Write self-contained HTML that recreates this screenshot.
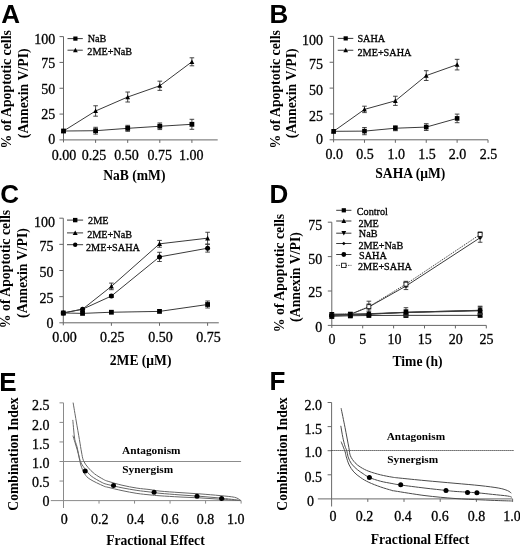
<!DOCTYPE html>
<html><head><meta charset="utf-8"><title>Figure</title>
<style>html,body{margin:0;padding:0;background:#fff;overflow:hidden;}svg{display:block;}</style></head>
<body><svg width="520" height="547" viewBox="0 0 520 547">
<defs><filter id="soft" x="-2%" y="-2%" width="104%" height="104%"><feGaussianBlur stdDeviation="0.35"/></filter></defs>
<rect width="520" height="547" fill="#fff"/>
<g filter="url(#soft)">
<text x="1.25" y="22.70" font-family='"Liberation Sans", sans-serif' font-size="26" font-weight="bold" text-anchor="start" fill="#000">A</text>
<text x="11.40" y="148.50" font-family='"Liberation Serif", serif' font-size="13.8" font-weight="bold" text-anchor="start" fill="#000" transform="rotate(-90 11.40 148.50)">% of Apoptotic cells</text>
<text x="27.80" y="138.20" font-family='"Liberation Serif", serif' font-size="13.8" font-weight="bold" text-anchor="start" fill="#000" transform="rotate(-90 27.80 138.20)">(Annexin V/PI)</text>
<line x1="63.50" y1="36.60" x2="63.50" y2="142.40" stroke="#666" stroke-width="1" />
<line x1="63.50" y1="139.90" x2="217.70" y2="139.90" stroke="#666" stroke-width="1" />
<line x1="59.50" y1="139.90" x2="63.50" y2="139.90" stroke="#666" stroke-width="1" />
<line x1="59.50" y1="114.08" x2="63.50" y2="114.08" stroke="#666" stroke-width="1" />
<line x1="59.50" y1="88.25" x2="63.50" y2="88.25" stroke="#666" stroke-width="1" />
<line x1="59.50" y1="62.42" x2="63.50" y2="62.42" stroke="#666" stroke-width="1" />
<line x1="59.50" y1="36.60" x2="63.50" y2="36.60" stroke="#666" stroke-width="1" />
<line x1="95.60" y1="139.90" x2="95.60" y2="142.90" stroke="#666" stroke-width="1" />
<line x1="127.70" y1="139.90" x2="127.70" y2="142.90" stroke="#666" stroke-width="1" />
<line x1="159.80" y1="139.90" x2="159.80" y2="142.90" stroke="#666" stroke-width="1" />
<line x1="191.90" y1="139.90" x2="191.90" y2="142.90" stroke="#666" stroke-width="1" />
<text x="55.20" y="44.30" font-family='"Liberation Serif", serif' font-size="14" font-weight="normal" text-anchor="end" fill="#000" stroke="#000" stroke-width="0.3">100</text>
<text x="55.20" y="67.80" font-family='"Liberation Serif", serif' font-size="14" font-weight="normal" text-anchor="end" fill="#000" stroke="#000" stroke-width="0.3">75</text>
<text x="55.20" y="93.60" font-family='"Liberation Serif", serif' font-size="14" font-weight="normal" text-anchor="end" fill="#000" stroke="#000" stroke-width="0.3">50</text>
<text x="55.20" y="119.10" font-family='"Liberation Serif", serif' font-size="14" font-weight="normal" text-anchor="end" fill="#000" stroke="#000" stroke-width="0.3">25</text>
<text x="55.20" y="143.50" font-family='"Liberation Serif", serif' font-size="14" font-weight="normal" text-anchor="end" fill="#000" stroke="#000" stroke-width="0.3">0</text>
<text x="64.00" y="160.00" font-family='"Liberation Serif", serif' font-size="14" font-weight="normal" text-anchor="middle" fill="#000" stroke="#000" stroke-width="0.3">0.00</text>
<text x="94.00" y="160.00" font-family='"Liberation Serif", serif' font-size="14" font-weight="normal" text-anchor="middle" fill="#000" stroke="#000" stroke-width="0.3">0.25</text>
<text x="126.50" y="160.00" font-family='"Liberation Serif", serif' font-size="14" font-weight="normal" text-anchor="middle" fill="#000" stroke="#000" stroke-width="0.3">0.50</text>
<text x="159.70" y="160.00" font-family='"Liberation Serif", serif' font-size="14" font-weight="normal" text-anchor="middle" fill="#000" stroke="#000" stroke-width="0.3">0.75</text>
<text x="191.20" y="160.00" font-family='"Liberation Serif", serif' font-size="14" font-weight="normal" text-anchor="middle" fill="#000" stroke="#000" stroke-width="0.3">1.00</text>
<text x="134.35" y="180.10" font-family='"Liberation Serif", serif' font-size="13.6" font-weight="bold" text-anchor="middle" fill="#000">NaB (mM)</text>
<polyline points="63.50,131.02 95.60,110.98 127.70,97.03 159.80,85.77 191.90,61.81" fill="none" stroke="#3a3a3a" stroke-width="1"/>
<line x1="95.60" y1="105.78" x2="95.60" y2="116.18" stroke="#333" stroke-width="0.9" />
<line x1="93.30" y1="105.78" x2="97.90" y2="105.78" stroke="#333" stroke-width="0.9" />
<line x1="93.30" y1="116.18" x2="97.90" y2="116.18" stroke="#333" stroke-width="0.9" />
<line x1="127.70" y1="92.03" x2="127.70" y2="102.03" stroke="#333" stroke-width="0.9" />
<line x1="125.40" y1="92.03" x2="130.00" y2="92.03" stroke="#333" stroke-width="0.9" />
<line x1="125.40" y1="102.03" x2="130.00" y2="102.03" stroke="#333" stroke-width="0.9" />
<line x1="159.80" y1="81.17" x2="159.80" y2="90.37" stroke="#333" stroke-width="0.9" />
<line x1="157.50" y1="81.17" x2="162.10" y2="81.17" stroke="#333" stroke-width="0.9" />
<line x1="157.50" y1="90.37" x2="162.10" y2="90.37" stroke="#333" stroke-width="0.9" />
<line x1="191.90" y1="57.81" x2="191.90" y2="65.81" stroke="#333" stroke-width="0.9" />
<line x1="189.60" y1="57.81" x2="194.20" y2="57.81" stroke="#333" stroke-width="0.9" />
<line x1="189.60" y1="65.81" x2="194.20" y2="65.81" stroke="#333" stroke-width="0.9" />
<polygon points="63.50,128.62 65.90,133.12 61.10,133.12" fill="#000"/>
<polygon points="95.60,108.58 98.00,113.08 93.20,113.08" fill="#000"/>
<polygon points="127.70,94.63 130.10,99.13 125.30,99.13" fill="#000"/>
<polygon points="159.80,83.37 162.20,87.87 157.40,87.87" fill="#000"/>
<polygon points="191.90,59.41 194.30,63.91 189.50,63.91" fill="#000"/>
<polyline points="63.50,131.02 95.60,130.71 127.70,128.33 159.80,126.26 191.90,124.30" fill="none" stroke="#3a3a3a" stroke-width="1"/>
<line x1="95.60" y1="127.31" x2="95.60" y2="134.11" stroke="#333" stroke-width="0.9" />
<line x1="93.30" y1="127.31" x2="97.90" y2="127.31" stroke="#333" stroke-width="0.9" />
<line x1="93.30" y1="134.11" x2="97.90" y2="134.11" stroke="#333" stroke-width="0.9" />
<line x1="127.70" y1="125.33" x2="127.70" y2="131.33" stroke="#333" stroke-width="0.9" />
<line x1="125.40" y1="125.33" x2="130.00" y2="125.33" stroke="#333" stroke-width="0.9" />
<line x1="125.40" y1="131.33" x2="130.00" y2="131.33" stroke="#333" stroke-width="0.9" />
<line x1="159.80" y1="122.96" x2="159.80" y2="129.56" stroke="#333" stroke-width="0.9" />
<line x1="157.50" y1="122.96" x2="162.10" y2="122.96" stroke="#333" stroke-width="0.9" />
<line x1="157.50" y1="129.56" x2="162.10" y2="129.56" stroke="#333" stroke-width="0.9" />
<line x1="191.90" y1="119.30" x2="191.90" y2="129.30" stroke="#333" stroke-width="0.9" />
<line x1="189.60" y1="119.30" x2="194.20" y2="119.30" stroke="#333" stroke-width="0.9" />
<line x1="189.60" y1="129.30" x2="194.20" y2="129.30" stroke="#333" stroke-width="0.9" />
<rect x="61.10" y="128.62" width="4.80" height="4.80" fill="#000"/>
<rect x="93.20" y="128.31" width="4.80" height="4.80" fill="#000"/>
<rect x="125.30" y="125.93" width="4.80" height="4.80" fill="#000"/>
<rect x="157.40" y="123.86" width="4.80" height="4.80" fill="#000"/>
<rect x="189.50" y="121.90" width="4.80" height="4.80" fill="#000"/>
<line x1="67.50" y1="38.60" x2="82.80" y2="38.60" stroke="#3a3a3a" stroke-width="1" />
<rect x="73.30" y="36.50" width="4.20" height="4.20" fill="#000"/>
<text x="87.70" y="42.20" font-family='"Liberation Serif", serif' font-size="10.2" font-weight="normal" text-anchor="start" fill="#000" stroke="#000" stroke-width="0.3">NaB</text>
<line x1="67.50" y1="50.20" x2="82.80" y2="50.20" stroke="#3a3a3a" stroke-width="1" />
<polygon points="75.40,47.80 77.80,52.30 73.00,52.30" fill="#000"/>
<text x="87.30" y="55.00" font-family='"Liberation Serif", serif' font-size="10.2" font-weight="normal" text-anchor="start" fill="#000" stroke="#000" stroke-width="0.3">2ME+NaB</text>
<text x="269.50" y="22.70" font-family='"Liberation Sans", sans-serif' font-size="26" font-weight="bold" text-anchor="start" fill="#000">B</text>
<text x="279.70" y="148.50" font-family='"Liberation Serif", serif' font-size="13.8" font-weight="bold" text-anchor="start" fill="#000" transform="rotate(-90 279.70 148.50)">% of Apoptotic cells</text>
<text x="296.10" y="138.20" font-family='"Liberation Serif", serif' font-size="13.8" font-weight="bold" text-anchor="start" fill="#000" transform="rotate(-90 296.10 138.20)">(Annexin V/PI)</text>
<line x1="333.60" y1="36.40" x2="333.60" y2="142.30" stroke="#666" stroke-width="1" />
<line x1="333.60" y1="139.80" x2="488.00" y2="139.80" stroke="#666" stroke-width="1" />
<line x1="329.60" y1="139.80" x2="333.60" y2="139.80" stroke="#666" stroke-width="1" />
<line x1="329.60" y1="113.95" x2="333.60" y2="113.95" stroke="#666" stroke-width="1" />
<line x1="329.60" y1="88.10" x2="333.60" y2="88.10" stroke="#666" stroke-width="1" />
<line x1="329.60" y1="62.25" x2="333.60" y2="62.25" stroke="#666" stroke-width="1" />
<line x1="329.60" y1="36.40" x2="333.60" y2="36.40" stroke="#666" stroke-width="1" />
<line x1="364.48" y1="139.80" x2="364.48" y2="142.80" stroke="#666" stroke-width="1" />
<line x1="395.36" y1="139.80" x2="395.36" y2="142.80" stroke="#666" stroke-width="1" />
<line x1="426.24" y1="139.80" x2="426.24" y2="142.80" stroke="#666" stroke-width="1" />
<line x1="457.12" y1="139.80" x2="457.12" y2="142.80" stroke="#666" stroke-width="1" />
<line x1="488.00" y1="139.80" x2="488.00" y2="142.80" stroke="#666" stroke-width="1" />
<text x="323.00" y="44.80" font-family='"Liberation Serif", serif' font-size="14" font-weight="normal" text-anchor="end" fill="#000" stroke="#000" stroke-width="0.3">100</text>
<text x="323.00" y="68.80" font-family='"Liberation Serif", serif' font-size="14" font-weight="normal" text-anchor="end" fill="#000" stroke="#000" stroke-width="0.3">75</text>
<text x="323.00" y="94.80" font-family='"Liberation Serif", serif' font-size="14" font-weight="normal" text-anchor="end" fill="#000" stroke="#000" stroke-width="0.3">50</text>
<text x="323.00" y="120.60" font-family='"Liberation Serif", serif' font-size="14" font-weight="normal" text-anchor="end" fill="#000" stroke="#000" stroke-width="0.3">25</text>
<text x="323.00" y="144.20" font-family='"Liberation Serif", serif' font-size="14" font-weight="normal" text-anchor="end" fill="#000" stroke="#000" stroke-width="0.3">0</text>
<text x="334.20" y="159.20" font-family='"Liberation Serif", serif' font-size="14" font-weight="normal" text-anchor="middle" fill="#000" stroke="#000" stroke-width="0.3">0.0</text>
<text x="365.00" y="159.20" font-family='"Liberation Serif", serif' font-size="14" font-weight="normal" text-anchor="middle" fill="#000" stroke="#000" stroke-width="0.3">0.5</text>
<text x="396.20" y="159.20" font-family='"Liberation Serif", serif' font-size="14" font-weight="normal" text-anchor="middle" fill="#000" stroke="#000" stroke-width="0.3">1.0</text>
<text x="426.90" y="159.20" font-family='"Liberation Serif", serif' font-size="14" font-weight="normal" text-anchor="middle" fill="#000" stroke="#000" stroke-width="0.3">1.5</text>
<text x="457.50" y="159.20" font-family='"Liberation Serif", serif' font-size="14" font-weight="normal" text-anchor="middle" fill="#000" stroke="#000" stroke-width="0.3">2.0</text>
<text x="488.50" y="159.20" font-family='"Liberation Serif", serif' font-size="14" font-weight="normal" text-anchor="middle" fill="#000" stroke="#000" stroke-width="0.3">2.5</text>
<text x="410.30" y="178.10" font-family='"Liberation Serif", serif' font-size="13.6" font-weight="bold" text-anchor="middle" fill="#000">SAHA (&#956;M)</text>
<polyline points="333.60,131.32 364.48,109.40 395.36,100.82 426.24,75.59 457.12,64.63" fill="none" stroke="#3a3a3a" stroke-width="1"/>
<line x1="364.48" y1="106.20" x2="364.48" y2="112.60" stroke="#333" stroke-width="0.9" />
<line x1="362.18" y1="106.20" x2="366.78" y2="106.20" stroke="#333" stroke-width="0.9" />
<line x1="362.18" y1="112.60" x2="366.78" y2="112.60" stroke="#333" stroke-width="0.9" />
<line x1="395.36" y1="96.22" x2="395.36" y2="105.42" stroke="#333" stroke-width="0.9" />
<line x1="393.06" y1="96.22" x2="397.66" y2="96.22" stroke="#333" stroke-width="0.9" />
<line x1="393.06" y1="105.42" x2="397.66" y2="105.42" stroke="#333" stroke-width="0.9" />
<line x1="426.24" y1="70.69" x2="426.24" y2="80.49" stroke="#333" stroke-width="0.9" />
<line x1="423.94" y1="70.69" x2="428.54" y2="70.69" stroke="#333" stroke-width="0.9" />
<line x1="423.94" y1="80.49" x2="428.54" y2="80.49" stroke="#333" stroke-width="0.9" />
<line x1="457.12" y1="59.33" x2="457.12" y2="69.93" stroke="#333" stroke-width="0.9" />
<line x1="454.82" y1="59.33" x2="459.42" y2="59.33" stroke="#333" stroke-width="0.9" />
<line x1="454.82" y1="69.93" x2="459.42" y2="69.93" stroke="#333" stroke-width="0.9" />
<polygon points="333.60,128.92 336.00,133.42 331.20,133.42" fill="#000"/>
<polygon points="364.48,107.00 366.88,111.50 362.08,111.50" fill="#000"/>
<polygon points="395.36,98.42 397.76,102.92 392.96,102.92" fill="#000"/>
<polygon points="426.24,73.19 428.64,77.69 423.84,77.69" fill="#000"/>
<polygon points="457.12,62.23 459.52,66.73 454.72,66.73" fill="#000"/>
<polyline points="333.60,131.32 364.48,131.11 395.36,128.22 426.24,127.08 457.12,118.40" fill="none" stroke="#3a3a3a" stroke-width="1"/>
<line x1="364.48" y1="127.51" x2="364.48" y2="134.71" stroke="#333" stroke-width="0.9" />
<line x1="362.18" y1="127.51" x2="366.78" y2="127.51" stroke="#333" stroke-width="0.9" />
<line x1="362.18" y1="134.71" x2="366.78" y2="134.71" stroke="#333" stroke-width="0.9" />
<line x1="395.36" y1="125.72" x2="395.36" y2="130.72" stroke="#333" stroke-width="0.9" />
<line x1="393.06" y1="125.72" x2="397.66" y2="125.72" stroke="#333" stroke-width="0.9" />
<line x1="393.06" y1="130.72" x2="397.66" y2="130.72" stroke="#333" stroke-width="0.9" />
<line x1="426.24" y1="123.68" x2="426.24" y2="130.48" stroke="#333" stroke-width="0.9" />
<line x1="423.94" y1="123.68" x2="428.54" y2="123.68" stroke="#333" stroke-width="0.9" />
<line x1="423.94" y1="130.48" x2="428.54" y2="130.48" stroke="#333" stroke-width="0.9" />
<line x1="457.12" y1="114.10" x2="457.12" y2="122.70" stroke="#333" stroke-width="0.9" />
<line x1="454.82" y1="114.10" x2="459.42" y2="114.10" stroke="#333" stroke-width="0.9" />
<line x1="454.82" y1="122.70" x2="459.42" y2="122.70" stroke="#333" stroke-width="0.9" />
<rect x="331.30" y="129.02" width="4.60" height="4.60" fill="#000"/>
<rect x="362.18" y="128.81" width="4.60" height="4.60" fill="#000"/>
<rect x="393.06" y="125.92" width="4.60" height="4.60" fill="#000"/>
<rect x="423.94" y="124.78" width="4.60" height="4.60" fill="#000"/>
<rect x="454.82" y="116.10" width="4.60" height="4.60" fill="#000"/>
<line x1="337.75" y1="38.40" x2="353.30" y2="38.40" stroke="#3a3a3a" stroke-width="1" />
<rect x="343.60" y="36.30" width="4.20" height="4.20" fill="#000"/>
<text x="357.40" y="42.10" font-family='"Liberation Serif", serif' font-size="10.2" font-weight="normal" text-anchor="start" fill="#000" stroke="#000" stroke-width="0.3">SAHA</text>
<line x1="337.75" y1="50.25" x2="353.30" y2="50.25" stroke="#3a3a3a" stroke-width="1" />
<polygon points="345.70,47.85 348.10,52.35 343.30,52.35" fill="#000"/>
<text x="357.50" y="55.60" font-family='"Liberation Serif", serif' font-size="10.2" font-weight="normal" text-anchor="start" fill="#000" stroke="#000" stroke-width="0.3">2ME+SAHA</text>
<text x="0.20" y="203.30" font-family='"Liberation Sans", sans-serif' font-size="26" font-weight="bold" text-anchor="start" fill="#000">C</text>
<text x="10.20" y="328.20" font-family='"Liberation Serif", serif' font-size="13.8" font-weight="bold" text-anchor="start" fill="#000" transform="rotate(-90 10.20 328.20)">% of Apoptotic cells</text>
<text x="26.60" y="317.90" font-family='"Liberation Serif", serif' font-size="13.8" font-weight="bold" text-anchor="start" fill="#000" transform="rotate(-90 26.60 317.90)">(Annexin V/PI)</text>
<line x1="63.30" y1="218.20" x2="63.30" y2="325.30" stroke="#666" stroke-width="1" />
<line x1="63.30" y1="322.80" x2="218.80" y2="322.80" stroke="#666" stroke-width="1" />
<line x1="59.30" y1="322.80" x2="63.30" y2="322.80" stroke="#666" stroke-width="1" />
<line x1="59.30" y1="296.65" x2="63.30" y2="296.65" stroke="#666" stroke-width="1" />
<line x1="59.30" y1="270.50" x2="63.30" y2="270.50" stroke="#666" stroke-width="1" />
<line x1="59.30" y1="244.35" x2="63.30" y2="244.35" stroke="#666" stroke-width="1" />
<line x1="59.30" y1="218.20" x2="63.30" y2="218.20" stroke="#666" stroke-width="1" />
<line x1="111.40" y1="322.80" x2="111.40" y2="325.80" stroke="#666" stroke-width="1" />
<line x1="159.50" y1="322.80" x2="159.50" y2="325.80" stroke="#666" stroke-width="1" />
<line x1="207.60" y1="322.80" x2="207.60" y2="325.80" stroke="#666" stroke-width="1" />
<text x="55.00" y="226.80" font-family='"Liberation Serif", serif' font-size="14" font-weight="normal" text-anchor="end" fill="#000" stroke="#000" stroke-width="0.3">100</text>
<text x="53.60" y="251.40" font-family='"Liberation Serif", serif' font-size="14" font-weight="normal" text-anchor="end" fill="#000" stroke="#000" stroke-width="0.3">75</text>
<text x="53.60" y="277.20" font-family='"Liberation Serif", serif' font-size="14" font-weight="normal" text-anchor="end" fill="#000" stroke="#000" stroke-width="0.3">50</text>
<text x="53.60" y="303.20" font-family='"Liberation Serif", serif' font-size="14" font-weight="normal" text-anchor="end" fill="#000" stroke="#000" stroke-width="0.3">25</text>
<text x="53.60" y="327.60" font-family='"Liberation Serif", serif' font-size="14" font-weight="normal" text-anchor="end" fill="#000" stroke="#000" stroke-width="0.3">0</text>
<text x="64.50" y="341.80" font-family='"Liberation Serif", serif' font-size="14" font-weight="normal" text-anchor="middle" fill="#000" stroke="#000" stroke-width="0.3">0.00</text>
<text x="112.20" y="341.80" font-family='"Liberation Serif", serif' font-size="14" font-weight="normal" text-anchor="middle" fill="#000" stroke="#000" stroke-width="0.3">0.25</text>
<text x="160.40" y="341.80" font-family='"Liberation Serif", serif' font-size="14" font-weight="normal" text-anchor="middle" fill="#000" stroke="#000" stroke-width="0.3">0.50</text>
<text x="208.50" y="341.80" font-family='"Liberation Serif", serif' font-size="14" font-weight="normal" text-anchor="middle" fill="#000" stroke="#000" stroke-width="0.3">0.75</text>
<text x="140.60" y="365.20" font-family='"Liberation Serif", serif' font-size="13.6" font-weight="bold" text-anchor="middle" fill="#000">2ME (&#956;M)</text>
<polyline points="63.30,312.97 82.54,309.20 111.40,286.40 159.50,243.83 207.60,238.18" fill="none" stroke="#3a3a3a" stroke-width="1"/>
<line x1="111.40" y1="283.10" x2="111.40" y2="289.70" stroke="#333" stroke-width="0.9" />
<line x1="109.10" y1="283.10" x2="113.70" y2="283.10" stroke="#333" stroke-width="0.9" />
<line x1="109.10" y1="289.70" x2="113.70" y2="289.70" stroke="#333" stroke-width="0.9" />
<line x1="159.50" y1="240.43" x2="159.50" y2="247.23" stroke="#333" stroke-width="0.9" />
<line x1="157.20" y1="240.43" x2="161.80" y2="240.43" stroke="#333" stroke-width="0.9" />
<line x1="157.20" y1="247.23" x2="161.80" y2="247.23" stroke="#333" stroke-width="0.9" />
<line x1="207.60" y1="232.28" x2="207.60" y2="244.08" stroke="#333" stroke-width="0.9" />
<line x1="205.30" y1="232.28" x2="209.90" y2="232.28" stroke="#333" stroke-width="0.9" />
<line x1="205.30" y1="244.08" x2="209.90" y2="244.08" stroke="#333" stroke-width="0.9" />
<polygon points="63.30,310.47 65.80,315.17 60.80,315.17" fill="#000"/>
<polygon points="82.54,306.70 85.04,311.40 80.04,311.40" fill="#000"/>
<polygon points="111.40,283.90 113.90,288.60 108.90,288.60" fill="#000"/>
<polygon points="159.50,241.33 162.00,246.03 157.00,246.03" fill="#000"/>
<polygon points="207.60,235.68 210.10,240.38 205.10,240.38" fill="#000"/>
<polyline points="63.30,312.97 82.54,309.20 111.40,296.02 159.50,256.90 207.60,248.22" fill="none" stroke="#3a3a3a" stroke-width="1"/>
<line x1="111.40" y1="294.52" x2="111.40" y2="297.52" stroke="#333" stroke-width="0.9" />
<line x1="109.10" y1="294.52" x2="113.70" y2="294.52" stroke="#333" stroke-width="0.9" />
<line x1="109.10" y1="297.52" x2="113.70" y2="297.52" stroke="#333" stroke-width="0.9" />
<line x1="159.50" y1="252.30" x2="159.50" y2="261.50" stroke="#333" stroke-width="0.9" />
<line x1="157.20" y1="252.30" x2="161.80" y2="252.30" stroke="#333" stroke-width="0.9" />
<line x1="157.20" y1="261.50" x2="161.80" y2="261.50" stroke="#333" stroke-width="0.9" />
<line x1="207.60" y1="244.32" x2="207.60" y2="252.12" stroke="#333" stroke-width="0.9" />
<line x1="205.30" y1="244.32" x2="209.90" y2="244.32" stroke="#333" stroke-width="0.9" />
<line x1="205.30" y1="252.12" x2="209.90" y2="252.12" stroke="#333" stroke-width="0.9" />
<circle cx="63.30" cy="312.97" r="2.50" fill="#000"/>
<circle cx="82.54" cy="309.20" r="2.50" fill="#000"/>
<circle cx="111.40" cy="296.02" r="2.50" fill="#000"/>
<circle cx="159.50" cy="256.90" r="2.50" fill="#000"/>
<circle cx="207.60" cy="248.22" r="2.50" fill="#000"/>
<polyline points="63.30,312.97 82.54,313.39 111.40,312.24 159.50,311.40 207.60,304.50" fill="none" stroke="#3a3a3a" stroke-width="1"/>
<line x1="207.60" y1="301.00" x2="207.60" y2="308.00" stroke="#333" stroke-width="0.9" />
<line x1="205.30" y1="301.00" x2="209.90" y2="301.00" stroke="#333" stroke-width="0.9" />
<line x1="205.30" y1="308.00" x2="209.90" y2="308.00" stroke="#333" stroke-width="0.9" />
<rect x="60.90" y="310.57" width="4.80" height="4.80" fill="#000"/>
<rect x="80.14" y="310.99" width="4.80" height="4.80" fill="#000"/>
<rect x="109.00" y="309.84" width="4.80" height="4.80" fill="#000"/>
<rect x="157.10" y="309.00" width="4.80" height="4.80" fill="#000"/>
<rect x="205.20" y="302.10" width="4.80" height="4.80" fill="#000"/>
<line x1="67.00" y1="220.10" x2="83.10" y2="220.10" stroke="#3a3a3a" stroke-width="1" />
<rect x="73.00" y="217.90" width="4.40" height="4.40" fill="#000"/>
<text x="88.10" y="224.10" font-family='"Liberation Serif", serif' font-size="10.2" font-weight="normal" text-anchor="start" fill="#000" stroke="#000" stroke-width="0.3">2ME</text>
<line x1="67.00" y1="232.90" x2="83.10" y2="232.90" stroke="#3a3a3a" stroke-width="1" />
<polygon points="75.20,230.40 77.70,235.10 72.70,235.10" fill="#000"/>
<text x="87.20" y="237.70" font-family='"Liberation Serif", serif' font-size="10.2" font-weight="normal" text-anchor="start" fill="#000" stroke="#000" stroke-width="0.3">2ME+NaB</text>
<line x1="67.00" y1="244.70" x2="83.10" y2="244.70" stroke="#3a3a3a" stroke-width="1" />
<circle cx="75.20" cy="244.70" r="2.20" fill="#000"/>
<text x="86.00" y="250.60" font-family='"Liberation Serif", serif' font-size="10.2" font-weight="normal" text-anchor="start" fill="#000" stroke="#000" stroke-width="0.3">2ME+SAHA</text>
<text x="269.50" y="203.10" font-family='"Liberation Sans", sans-serif' font-size="26" font-weight="bold" text-anchor="start" fill="#000">D</text>
<text x="284.00" y="332.20" font-family='"Liberation Serif", serif' font-size="13.8" font-weight="bold" text-anchor="start" fill="#000" transform="rotate(-90 284.00 332.20)">% of Apoptotic cells</text>
<text x="300.40" y="321.90" font-family='"Liberation Serif", serif' font-size="13.8" font-weight="bold" text-anchor="start" fill="#000" transform="rotate(-90 300.40 321.90)">(Annexin V/PI)</text>
<line x1="331.80" y1="222.20" x2="331.80" y2="327.90" stroke="#666" stroke-width="1" />
<line x1="331.80" y1="325.40" x2="486.30" y2="325.40" stroke="#666" stroke-width="1" />
<line x1="327.80" y1="325.40" x2="331.80" y2="325.40" stroke="#666" stroke-width="1" />
<line x1="327.80" y1="291.00" x2="331.80" y2="291.00" stroke="#666" stroke-width="1" />
<line x1="327.80" y1="256.60" x2="331.80" y2="256.60" stroke="#666" stroke-width="1" />
<line x1="327.80" y1="222.20" x2="331.80" y2="222.20" stroke="#666" stroke-width="1" />
<line x1="362.70" y1="325.40" x2="362.70" y2="328.40" stroke="#666" stroke-width="1" />
<line x1="393.60" y1="325.40" x2="393.60" y2="328.40" stroke="#666" stroke-width="1" />
<line x1="424.50" y1="325.40" x2="424.50" y2="328.40" stroke="#666" stroke-width="1" />
<line x1="455.40" y1="325.40" x2="455.40" y2="328.40" stroke="#666" stroke-width="1" />
<line x1="486.30" y1="325.40" x2="486.30" y2="328.40" stroke="#666" stroke-width="1" />
<text x="322.20" y="229.50" font-family='"Liberation Serif", serif' font-size="14" font-weight="normal" text-anchor="end" fill="#000" stroke="#000" stroke-width="0.3">75</text>
<text x="322.20" y="263.60" font-family='"Liberation Serif", serif' font-size="14" font-weight="normal" text-anchor="end" fill="#000" stroke="#000" stroke-width="0.3">50</text>
<text x="322.20" y="297.40" font-family='"Liberation Serif", serif' font-size="14" font-weight="normal" text-anchor="end" fill="#000" stroke="#000" stroke-width="0.3">25</text>
<text x="322.20" y="331.50" font-family='"Liberation Serif", serif' font-size="14" font-weight="normal" text-anchor="end" fill="#000" stroke="#000" stroke-width="0.3">0</text>
<text x="332.10" y="344.40" font-family='"Liberation Serif", serif' font-size="14" font-weight="normal" text-anchor="middle" fill="#000" stroke="#000" stroke-width="0.3">0</text>
<text x="362.80" y="344.40" font-family='"Liberation Serif", serif' font-size="14" font-weight="normal" text-anchor="middle" fill="#000" stroke="#000" stroke-width="0.3">5</text>
<text x="394.40" y="344.40" font-family='"Liberation Serif", serif' font-size="14" font-weight="normal" text-anchor="middle" fill="#000" stroke="#000" stroke-width="0.3">10</text>
<text x="424.70" y="344.40" font-family='"Liberation Serif", serif' font-size="14" font-weight="normal" text-anchor="middle" fill="#000" stroke="#000" stroke-width="0.3">15</text>
<text x="455.70" y="344.40" font-family='"Liberation Serif", serif' font-size="14" font-weight="normal" text-anchor="middle" fill="#000" stroke="#000" stroke-width="0.3">20</text>
<text x="486.50" y="344.40" font-family='"Liberation Serif", serif' font-size="14" font-weight="normal" text-anchor="middle" fill="#000" stroke="#000" stroke-width="0.3">25</text>
<text x="417.50" y="366.20" font-family='"Liberation Serif", serif' font-size="13.6" font-weight="bold" text-anchor="middle" fill="#000">Time (h)</text>
<polyline points="331.80,314.94 350.34,314.39 368.88,306.96 405.96,286.05 480.12,237.75" fill="none" stroke="#3a3a3a" stroke-width="1"/>
<line x1="368.88" y1="303.96" x2="368.88" y2="309.96" stroke="#333" stroke-width="0.9" />
<line x1="366.58" y1="303.96" x2="371.18" y2="303.96" stroke="#333" stroke-width="0.9" />
<line x1="366.58" y1="309.96" x2="371.18" y2="309.96" stroke="#333" stroke-width="0.9" />
<line x1="405.96" y1="282.55" x2="405.96" y2="289.55" stroke="#333" stroke-width="0.9" />
<line x1="403.66" y1="282.55" x2="408.26" y2="282.55" stroke="#333" stroke-width="0.9" />
<line x1="403.66" y1="289.55" x2="408.26" y2="289.55" stroke="#333" stroke-width="0.9" />
<line x1="480.12" y1="233.25" x2="480.12" y2="242.25" stroke="#333" stroke-width="0.9" />
<line x1="477.82" y1="233.25" x2="482.42" y2="233.25" stroke="#333" stroke-width="0.9" />
<line x1="477.82" y1="242.25" x2="482.42" y2="242.25" stroke="#333" stroke-width="0.9" />
<polygon points="331.80,312.84 333.90,314.94 331.80,317.04 329.70,314.94" fill="#000"/>
<polygon points="350.34,312.29 352.44,314.39 350.34,316.49 348.24,314.39" fill="#000"/>
<polygon points="368.88,304.86 370.98,306.96 368.88,309.06 366.78,306.96" fill="#000"/>
<polygon points="405.96,283.95 408.06,286.05 405.96,288.15 403.86,286.05" fill="#000"/>
<polygon points="480.12,235.65 482.22,237.75 480.12,239.85 478.02,237.75" fill="#000"/>
<polyline points="331.80,314.67 350.34,314.12 368.88,306.69 405.96,284.12 480.12,234.45" fill="none" stroke="#3a3a3a" stroke-width="1" stroke-dasharray="1.2,1"/>
<line x1="368.88" y1="301.19" x2="368.88" y2="312.19" stroke="#333" stroke-width="0.9" />
<line x1="366.58" y1="301.19" x2="371.18" y2="301.19" stroke="#333" stroke-width="0.9" />
<line x1="366.58" y1="312.19" x2="371.18" y2="312.19" stroke="#333" stroke-width="0.9" />
<line x1="405.96" y1="281.32" x2="405.96" y2="286.92" stroke="#333" stroke-width="0.9" />
<line x1="403.66" y1="281.32" x2="408.26" y2="281.32" stroke="#333" stroke-width="0.9" />
<line x1="403.66" y1="286.92" x2="408.26" y2="286.92" stroke="#333" stroke-width="0.9" />
<line x1="480.12" y1="231.95" x2="480.12" y2="236.95" stroke="#333" stroke-width="0.9" />
<line x1="477.82" y1="231.95" x2="482.42" y2="231.95" stroke="#333" stroke-width="0.9" />
<line x1="477.82" y1="236.95" x2="482.42" y2="236.95" stroke="#333" stroke-width="0.9" />
<rect x="329.80" y="312.67" width="4.00" height="4.00" fill="#fff" stroke="#000" stroke-width="0.8"/>
<rect x="348.34" y="312.12" width="4.00" height="4.00" fill="#fff" stroke="#000" stroke-width="0.8"/>
<rect x="366.88" y="304.69" width="4.00" height="4.00" fill="#fff" stroke="#000" stroke-width="0.8"/>
<rect x="403.96" y="282.12" width="4.00" height="4.00" fill="#fff" stroke="#000" stroke-width="0.8"/>
<rect x="478.12" y="232.45" width="4.00" height="4.00" fill="#fff" stroke="#000" stroke-width="0.8"/>
<polyline points="331.80,316.32 350.34,315.77 368.88,315.49 405.96,315.36 480.12,315.36" fill="none" stroke="#3a3a3a" stroke-width="1"/>
<line x1="331.80" y1="314.12" x2="331.80" y2="318.52" stroke="#333" stroke-width="0.9" />
<line x1="329.50" y1="314.12" x2="334.10" y2="314.12" stroke="#333" stroke-width="0.9" />
<line x1="329.50" y1="318.52" x2="334.10" y2="318.52" stroke="#333" stroke-width="0.9" />
<line x1="350.34" y1="313.77" x2="350.34" y2="317.77" stroke="#333" stroke-width="0.9" />
<line x1="348.04" y1="313.77" x2="352.64" y2="313.77" stroke="#333" stroke-width="0.9" />
<line x1="348.04" y1="317.77" x2="352.64" y2="317.77" stroke="#333" stroke-width="0.9" />
<line x1="405.96" y1="313.36" x2="405.96" y2="317.36" stroke="#333" stroke-width="0.9" />
<line x1="403.66" y1="313.36" x2="408.26" y2="313.36" stroke="#333" stroke-width="0.9" />
<line x1="403.66" y1="317.36" x2="408.26" y2="317.36" stroke="#333" stroke-width="0.9" />
<line x1="480.12" y1="313.86" x2="480.12" y2="316.86" stroke="#333" stroke-width="0.9" />
<line x1="477.82" y1="313.86" x2="482.42" y2="313.86" stroke="#333" stroke-width="0.9" />
<line x1="477.82" y1="316.86" x2="482.42" y2="316.86" stroke="#333" stroke-width="0.9" />
<rect x="329.40" y="313.92" width="4.80" height="4.80" fill="#000"/>
<rect x="347.94" y="313.37" width="4.80" height="4.80" fill="#000"/>
<rect x="366.48" y="313.09" width="4.80" height="4.80" fill="#000"/>
<rect x="403.56" y="312.96" width="4.80" height="4.80" fill="#000"/>
<rect x="477.72" y="312.96" width="4.80" height="4.80" fill="#000"/>
<polyline points="331.80,314.94 350.34,314.53 368.88,313.98 405.96,312.60 480.12,310.81" fill="none" stroke="#3a3a3a" stroke-width="1"/>
<line x1="405.96" y1="309.60" x2="405.96" y2="315.60" stroke="#333" stroke-width="0.9" />
<line x1="403.66" y1="309.60" x2="408.26" y2="309.60" stroke="#333" stroke-width="0.9" />
<line x1="403.66" y1="315.60" x2="408.26" y2="315.60" stroke="#333" stroke-width="0.9" />
<line x1="480.12" y1="307.81" x2="480.12" y2="313.81" stroke="#333" stroke-width="0.9" />
<line x1="477.82" y1="307.81" x2="482.42" y2="307.81" stroke="#333" stroke-width="0.9" />
<line x1="477.82" y1="313.81" x2="482.42" y2="313.81" stroke="#333" stroke-width="0.9" />
<polygon points="331.80,312.34 334.40,317.24 329.20,317.24" fill="#000"/>
<polygon points="350.34,311.93 352.94,316.83 347.74,316.83" fill="#000"/>
<polygon points="368.88,311.38 371.48,316.28 366.28,316.28" fill="#000"/>
<polygon points="405.96,310.00 408.56,314.90 403.36,314.90" fill="#000"/>
<polygon points="480.12,308.21 482.72,313.11 477.52,313.11" fill="#000"/>
<polyline points="331.80,314.12 350.34,314.12 368.88,313.70 405.96,312.33 480.12,310.26" fill="none" stroke="#3a3a3a" stroke-width="1"/>
<line x1="405.96" y1="310.33" x2="405.96" y2="314.33" stroke="#333" stroke-width="0.9" />
<line x1="403.66" y1="310.33" x2="408.26" y2="310.33" stroke="#333" stroke-width="0.9" />
<line x1="403.66" y1="314.33" x2="408.26" y2="314.33" stroke="#333" stroke-width="0.9" />
<line x1="480.12" y1="306.76" x2="480.12" y2="313.76" stroke="#333" stroke-width="0.9" />
<line x1="477.82" y1="306.76" x2="482.42" y2="306.76" stroke="#333" stroke-width="0.9" />
<line x1="477.82" y1="313.76" x2="482.42" y2="313.76" stroke="#333" stroke-width="0.9" />
<polygon points="331.80,316.52 334.20,312.02 329.40,312.02" fill="#000"/>
<polygon points="350.34,316.52 352.74,312.02 347.94,312.02" fill="#000"/>
<polygon points="368.88,316.10 371.28,311.60 366.48,311.60" fill="#000"/>
<polygon points="405.96,314.73 408.36,310.23 403.56,310.23" fill="#000"/>
<polygon points="480.12,312.66 482.52,308.16 477.72,308.16" fill="#000"/>
<polyline points="331.80,315.49 350.34,315.08 368.88,314.39 405.96,312.19 480.12,310.40" fill="none" stroke="#3a3a3a" stroke-width="1"/>
<line x1="331.80" y1="313.99" x2="331.80" y2="316.99" stroke="#333" stroke-width="0.9" />
<line x1="329.50" y1="313.99" x2="334.10" y2="313.99" stroke="#333" stroke-width="0.9" />
<line x1="329.50" y1="316.99" x2="334.10" y2="316.99" stroke="#333" stroke-width="0.9" />
<line x1="350.34" y1="313.58" x2="350.34" y2="316.58" stroke="#333" stroke-width="0.9" />
<line x1="348.04" y1="313.58" x2="352.64" y2="313.58" stroke="#333" stroke-width="0.9" />
<line x1="348.04" y1="316.58" x2="352.64" y2="316.58" stroke="#333" stroke-width="0.9" />
<line x1="405.96" y1="307.69" x2="405.96" y2="316.69" stroke="#333" stroke-width="0.9" />
<line x1="403.66" y1="307.69" x2="408.26" y2="307.69" stroke="#333" stroke-width="0.9" />
<line x1="403.66" y1="316.69" x2="408.26" y2="316.69" stroke="#333" stroke-width="0.9" />
<line x1="480.12" y1="306.20" x2="480.12" y2="314.60" stroke="#333" stroke-width="0.9" />
<line x1="477.82" y1="306.20" x2="482.42" y2="306.20" stroke="#333" stroke-width="0.9" />
<line x1="477.82" y1="314.60" x2="482.42" y2="314.60" stroke="#333" stroke-width="0.9" />
<circle cx="331.80" cy="315.49" r="2.50" fill="#000"/>
<circle cx="350.34" cy="315.08" r="2.50" fill="#000"/>
<circle cx="368.88" cy="314.39" r="2.50" fill="#000"/>
<circle cx="405.96" cy="312.19" r="2.50" fill="#000"/>
<circle cx="480.12" cy="310.40" r="2.50" fill="#000"/>
<line x1="336.20" y1="210.30" x2="351.40" y2="210.30" stroke="#3a3a3a" stroke-width="1" />
<rect x="341.70" y="208.20" width="4.20" height="4.20" fill="#000"/>
<text x="356.80" y="214.80" font-family='"Liberation Serif", serif' font-size="10.2" font-weight="normal" text-anchor="start" fill="#000" stroke="#000" stroke-width="0.3">Control</text>
<line x1="336.20" y1="221.00" x2="351.40" y2="221.00" stroke="#3a3a3a" stroke-width="1" />
<polygon points="343.80,218.60 346.20,223.10 341.40,223.10" fill="#000"/>
<text x="358.40" y="226.90" font-family='"Liberation Serif", serif' font-size="10.2" font-weight="normal" text-anchor="start" fill="#000" stroke="#000" stroke-width="0.3">2ME</text>
<line x1="336.20" y1="233.20" x2="351.40" y2="233.20" stroke="#3a3a3a" stroke-width="1" />
<polygon points="343.80,235.60 346.20,231.10 341.40,231.10" fill="#000"/>
<text x="358.80" y="237.20" font-family='"Liberation Serif", serif' font-size="10.2" font-weight="normal" text-anchor="start" fill="#000" stroke="#000" stroke-width="0.3">NaB</text>
<line x1="336.20" y1="243.50" x2="351.40" y2="243.50" stroke="#3a3a3a" stroke-width="1" />
<polygon points="343.80,241.70 345.60,243.50 343.80,245.30 342.00,243.50" fill="#000"/>
<text x="358.40" y="249.10" font-family='"Liberation Serif", serif' font-size="10.2" font-weight="normal" text-anchor="start" fill="#000" stroke="#000" stroke-width="0.3">2ME+NaB</text>
<line x1="336.20" y1="254.50" x2="351.40" y2="254.50" stroke="#3a3a3a" stroke-width="1" />
<circle cx="343.80" cy="254.50" r="2.40" fill="#000"/>
<text x="359.10" y="259.20" font-family='"Liberation Serif", serif' font-size="10.2" font-weight="normal" text-anchor="start" fill="#000" stroke="#000" stroke-width="0.3">SAHA</text>
<line x1="336.20" y1="265.40" x2="351.40" y2="265.40" stroke="#3a3a3a" stroke-width="1" stroke-dasharray="1.2,1.2"/>
<rect x="341.60" y="263.20" width="4.40" height="4.40" fill="#fff" stroke="#000" stroke-width="0.8"/>
<text x="358.00" y="269.50" font-family='"Liberation Serif", serif' font-size="10.2" font-weight="normal" text-anchor="start" fill="#000" stroke="#000" stroke-width="0.3">2ME+SAHA</text>
<text x="-0.80" y="390.80" font-family='"Liberation Sans", sans-serif' font-size="26" font-weight="bold" text-anchor="start" fill="#000">E</text>
<text x="17.80" y="510.70" font-family='"Liberation Serif", serif' font-size="13.65" font-weight="bold" text-anchor="start" fill="#000" transform="rotate(-90 17.80 510.70)">Combination Index</text>
<line x1="63.50" y1="402.85" x2="63.50" y2="508.00" stroke="#8a8a8a" stroke-width="1" />
<line x1="50.80" y1="500.60" x2="241.10" y2="500.60" stroke="#8a8a8a" stroke-width="1" />
<line x1="59.50" y1="481.05" x2="63.50" y2="481.05" stroke="#8a8a8a" stroke-width="1" />
<line x1="59.50" y1="461.50" x2="63.50" y2="461.50" stroke="#8a8a8a" stroke-width="1" />
<line x1="59.50" y1="441.95" x2="63.50" y2="441.95" stroke="#8a8a8a" stroke-width="1" />
<line x1="59.50" y1="422.40" x2="63.50" y2="422.40" stroke="#8a8a8a" stroke-width="1" />
<line x1="59.50" y1="402.85" x2="63.50" y2="402.85" stroke="#8a8a8a" stroke-width="1" />
<line x1="99.02" y1="500.60" x2="99.02" y2="503.60" stroke="#8a8a8a" stroke-width="1" />
<line x1="134.54" y1="500.60" x2="134.54" y2="503.60" stroke="#8a8a8a" stroke-width="1" />
<line x1="170.06" y1="500.60" x2="170.06" y2="503.60" stroke="#8a8a8a" stroke-width="1" />
<line x1="205.58" y1="500.60" x2="205.58" y2="503.60" stroke="#8a8a8a" stroke-width="1" />
<line x1="241.10" y1="500.60" x2="241.10" y2="503.60" stroke="#8a8a8a" stroke-width="1" />
<text x="49.60" y="410.20" font-family='"Liberation Serif", serif' font-size="14" font-weight="normal" text-anchor="end" fill="#000" stroke="#000" stroke-width="0.3">2.5</text>
<text x="49.60" y="429.50" font-family='"Liberation Serif", serif' font-size="14" font-weight="normal" text-anchor="end" fill="#000" stroke="#000" stroke-width="0.3">2.0</text>
<text x="49.60" y="448.80" font-family='"Liberation Serif", serif' font-size="14" font-weight="normal" text-anchor="end" fill="#000" stroke="#000" stroke-width="0.3">1.5</text>
<text x="49.60" y="468.00" font-family='"Liberation Serif", serif' font-size="14" font-weight="normal" text-anchor="end" fill="#000" stroke="#000" stroke-width="0.3">1.0</text>
<text x="49.60" y="487.00" font-family='"Liberation Serif", serif' font-size="14" font-weight="normal" text-anchor="end" fill="#000" stroke="#000" stroke-width="0.3">0.5</text>
<text x="49.60" y="506.40" font-family='"Liberation Serif", serif' font-size="14" font-weight="normal" text-anchor="end" fill="#000" stroke="#000" stroke-width="0.3">0</text>
<text x="64.20" y="523.80" font-family='"Liberation Serif", serif' font-size="14" font-weight="normal" text-anchor="middle" fill="#000" stroke="#000" stroke-width="0.3">0</text>
<text x="99.80" y="523.80" font-family='"Liberation Serif", serif' font-size="14" font-weight="normal" text-anchor="middle" fill="#000" stroke="#000" stroke-width="0.3">0.2</text>
<text x="135.60" y="523.80" font-family='"Liberation Serif", serif' font-size="14" font-weight="normal" text-anchor="middle" fill="#000" stroke="#000" stroke-width="0.3">0.4</text>
<text x="170.00" y="523.80" font-family='"Liberation Serif", serif' font-size="14" font-weight="normal" text-anchor="middle" fill="#000" stroke="#000" stroke-width="0.3">0.6</text>
<text x="205.40" y="523.80" font-family='"Liberation Serif", serif' font-size="14" font-weight="normal" text-anchor="middle" fill="#000" stroke="#000" stroke-width="0.3">0.8</text>
<text x="235.70" y="523.80" font-family='"Liberation Serif", serif' font-size="14" font-weight="normal" text-anchor="middle" fill="#000" stroke="#000" stroke-width="0.3">1.0</text>
<text x="155.40" y="544.90" font-family='"Liberation Serif", serif' font-size="13.6" font-weight="bold" text-anchor="middle" fill="#000">Fractional Effect</text>
<line x1="63.50" y1="461.50" x2="241.10" y2="461.50" stroke="#8c8c8c" stroke-width="1" />
<text x="122.10" y="453.70" font-family='"Liberation Serif", serif' font-size="11.3" font-weight="bold" text-anchor="start" fill="#000">Antagonism</text>
<text x="122.30" y="472.70" font-family='"Liberation Serif", serif' font-size="11.3" font-weight="bold" text-anchor="start" fill="#000">Synergism</text>
<path d="M73.10,402.60 C73.62,405.67 75.15,414.85 76.20,421.00 C77.25,427.15 78.52,434.33 79.40,439.50 C80.28,444.67 80.82,448.47 81.50,452.00 C82.18,455.53 82.43,458.15 83.50,460.70 C84.57,463.25 86.07,465.12 87.90,467.30 C89.73,469.48 91.93,471.80 94.50,473.80 C97.07,475.80 101.03,478.05 103.30,479.30 C105.57,480.55 104.98,480.32 108.10,481.30 C111.22,482.28 117.20,484.07 122.00,485.20 C126.80,486.33 132.23,487.37 136.90,488.10 C141.57,488.83 146.15,489.10 150.00,489.60 C153.85,490.10 155.00,490.60 160.00,491.10 C165.00,491.60 173.33,492.13 180.00,492.60 C186.67,493.07 193.33,493.40 200.00,493.90 C206.67,494.40 214.23,495.03 220.00,495.60 C225.77,496.17 231.18,496.53 234.60,497.30 C238.02,498.07 239.52,499.72 240.50,500.20" fill="none" stroke="#666" stroke-width="1"/>
<path d="M72.80,419.90 C72.95,421.58 73.37,426.73 73.70,430.00 C74.03,433.27 74.25,436.70 74.80,439.50 C75.35,442.30 76.10,443.27 77.00,446.80 C77.90,450.33 78.93,457.10 80.20,460.70 C81.47,464.30 82.77,465.85 84.60,468.40 C86.43,470.95 88.27,473.63 91.20,476.00 C94.13,478.37 99.38,481.17 102.20,482.60 C105.02,484.03 104.80,483.73 108.10,484.60 C111.40,485.47 117.20,486.83 122.00,487.80 C126.80,488.77 132.23,489.70 136.90,490.40 C141.57,491.10 146.15,491.52 150.00,492.00 C153.85,492.48 155.00,492.82 160.00,493.30 C165.00,493.78 173.33,494.40 180.00,494.90 C186.67,495.40 193.33,495.78 200.00,496.30 C206.67,496.82 213.25,497.32 220.00,498.00 C226.75,498.68 237.08,500.00 240.50,500.40" fill="none" stroke="#666" stroke-width="1"/>
<path d="M72.90,435.60 C73.25,436.75 74.27,440.10 75.00,442.50 C75.73,444.90 76.63,447.58 77.30,450.00 C77.97,452.42 78.42,454.50 79.00,457.00 C79.58,459.50 79.87,462.20 80.80,465.00 C81.73,467.80 83.05,471.42 84.60,473.80 C86.15,476.18 86.98,477.28 90.10,479.30 C93.22,481.32 100.30,484.57 103.30,485.90 C106.30,487.23 104.98,486.52 108.10,487.30 C111.22,488.08 117.20,489.58 122.00,490.60 C126.80,491.62 132.23,492.68 136.90,493.40 C141.57,494.12 146.15,494.50 150.00,494.90 C153.85,495.30 155.00,495.45 160.00,495.80 C165.00,496.15 173.33,496.65 180.00,497.00 C186.67,497.35 193.33,497.53 200.00,497.90 C206.67,498.27 213.25,498.75 220.00,499.20 C226.75,499.65 237.08,500.37 240.50,500.60" fill="none" stroke="#666" stroke-width="1"/>
<circle cx="85.20" cy="471.10" r="2.50" fill="#000"/>
<circle cx="113.50" cy="485.60" r="2.50" fill="#000"/>
<circle cx="154.10" cy="492.20" r="2.50" fill="#000"/>
<circle cx="197.00" cy="496.30" r="2.50" fill="#000"/>
<circle cx="221.60" cy="498.50" r="2.50" fill="#000"/>
<text x="269.60" y="390.20" font-family='"Liberation Sans", sans-serif' font-size="26" font-weight="bold" text-anchor="start" fill="#000">F</text>
<text x="287.50" y="510.70" font-family='"Liberation Serif", serif' font-size="13.65" font-weight="bold" text-anchor="start" fill="#000" transform="rotate(-90 287.50 510.70)">Combination Index</text>
<line x1="331.60" y1="402.50" x2="331.60" y2="506.50" stroke="#6a6a6a" stroke-width="1" />
<line x1="317.80" y1="498.90" x2="512.60" y2="498.90" stroke="#6a6a6a" stroke-width="1" />
<line x1="327.60" y1="474.80" x2="331.60" y2="474.80" stroke="#6a6a6a" stroke-width="1" />
<line x1="327.60" y1="450.70" x2="331.60" y2="450.70" stroke="#6a6a6a" stroke-width="1" />
<line x1="327.60" y1="426.60" x2="331.60" y2="426.60" stroke="#6a6a6a" stroke-width="1" />
<line x1="327.60" y1="402.50" x2="331.60" y2="402.50" stroke="#6a6a6a" stroke-width="1" />
<line x1="367.80" y1="498.90" x2="367.80" y2="501.90" stroke="#6a6a6a" stroke-width="1" />
<line x1="404.00" y1="498.90" x2="404.00" y2="501.90" stroke="#6a6a6a" stroke-width="1" />
<line x1="440.20" y1="498.90" x2="440.20" y2="501.90" stroke="#6a6a6a" stroke-width="1" />
<line x1="476.40" y1="498.90" x2="476.40" y2="501.90" stroke="#6a6a6a" stroke-width="1" />
<line x1="512.60" y1="498.90" x2="512.60" y2="501.90" stroke="#6a6a6a" stroke-width="1" />
<text x="322.00" y="410.20" font-family='"Liberation Serif", serif' font-size="14" font-weight="normal" text-anchor="end" fill="#000" stroke="#000" stroke-width="0.3">2.0</text>
<text x="322.00" y="433.50" font-family='"Liberation Serif", serif' font-size="14" font-weight="normal" text-anchor="end" fill="#000" stroke="#000" stroke-width="0.3">1.5</text>
<text x="322.00" y="457.00" font-family='"Liberation Serif", serif' font-size="14" font-weight="normal" text-anchor="end" fill="#000" stroke="#000" stroke-width="0.3">1.0</text>
<text x="322.00" y="481.80" font-family='"Liberation Serif", serif' font-size="14" font-weight="normal" text-anchor="end" fill="#000" stroke="#000" stroke-width="0.3">0.5</text>
<text x="313.90" y="506.00" font-family='"Liberation Serif", serif' font-size="14" font-weight="normal" text-anchor="end" fill="#000" stroke="#000" stroke-width="0.3">0</text>
<text x="333.00" y="521.00" font-family='"Liberation Serif", serif' font-size="14" font-weight="normal" text-anchor="middle" fill="#000" stroke="#000" stroke-width="0.3">0</text>
<text x="364.50" y="521.00" font-family='"Liberation Serif", serif' font-size="14" font-weight="normal" text-anchor="middle" fill="#000" stroke="#000" stroke-width="0.3">0.2</text>
<text x="402.90" y="521.00" font-family='"Liberation Serif", serif' font-size="14" font-weight="normal" text-anchor="middle" fill="#000" stroke="#000" stroke-width="0.3">0.4</text>
<text x="440.00" y="521.00" font-family='"Liberation Serif", serif' font-size="14" font-weight="normal" text-anchor="middle" fill="#000" stroke="#000" stroke-width="0.3">0.6</text>
<text x="476.50" y="521.00" font-family='"Liberation Serif", serif' font-size="14" font-weight="normal" text-anchor="middle" fill="#000" stroke="#000" stroke-width="0.3">0.8</text>
<text x="512.00" y="521.00" font-family='"Liberation Serif", serif' font-size="14" font-weight="normal" text-anchor="middle" fill="#000" stroke="#000" stroke-width="0.3">1.0</text>
<text x="420.00" y="544.20" font-family='"Liberation Serif", serif' font-size="13.6" font-weight="bold" text-anchor="middle" fill="#000">Fractional Effect</text>
<line x1="331.60" y1="450.50" x2="514.00" y2="450.50" stroke="#111" stroke-width="1" stroke-dasharray="1,1"/>
<text x="386.70" y="440.20" font-family='"Liberation Serif", serif' font-size="11.3" font-weight="bold" text-anchor="start" fill="#000">Antagonism</text>
<text x="387.30" y="462.70" font-family='"Liberation Serif", serif' font-size="11.3" font-weight="bold" text-anchor="start" fill="#000">Synergism</text>
<path d="M341.10,408.20 C341.75,411.40 343.72,420.88 345.00,427.40 C346.28,433.92 347.90,442.57 348.80,447.30 C349.70,452.03 349.37,453.23 350.40,455.80 C351.43,458.37 353.27,460.78 355.00,462.70 C356.73,464.62 358.50,465.87 360.80,467.30 C363.10,468.73 365.53,470.05 368.80,471.30 C372.07,472.55 376.55,473.83 380.40,474.80 C384.25,475.77 388.63,476.55 391.90,477.10 C395.17,477.65 394.48,477.52 400.00,478.10 C405.52,478.68 415.83,479.73 425.00,480.60 C434.17,481.47 445.83,482.47 455.00,483.30 C464.17,484.13 472.70,484.80 480.00,485.60 C487.30,486.40 494.22,487.27 498.80,488.10 C503.38,488.93 505.42,489.77 507.50,490.60 C509.58,491.43 510.67,492.68 511.30,493.10" fill="none" stroke="#4a4a4a" stroke-width="1"/>
<path d="M340.80,425.80 C341.13,427.72 342.10,433.90 342.80,437.30 C343.50,440.70 344.32,443.92 345.00,446.20 C345.68,448.48 346.38,449.22 346.90,451.00 C347.42,452.78 347.33,454.77 348.10,456.90 C348.87,459.03 349.97,461.68 351.50,463.80 C353.03,465.92 355.37,467.95 357.30,469.60 C359.23,471.25 361.08,472.38 363.10,473.70 C365.12,475.02 366.52,476.25 369.40,477.50 C372.28,478.75 376.65,480.20 380.40,481.20 C384.15,482.20 388.63,482.88 391.90,483.50 C395.17,484.12 394.48,484.13 400.00,484.90 C405.52,485.67 417.37,487.18 425.00,488.10 C432.63,489.02 440.80,489.85 445.80,490.40 C450.80,490.95 449.82,491.00 455.00,491.40 C460.18,491.80 470.65,492.30 476.90,492.80 C483.15,493.30 487.40,493.87 492.50,494.40 C497.60,494.93 504.27,495.52 507.50,496.00 C510.73,496.48 511.17,497.08 511.90,497.30" fill="none" stroke="#4a4a4a" stroke-width="1"/>
<path d="M341.10,441.60 C341.47,442.52 342.62,445.37 343.30,447.10 C343.98,448.83 344.70,450.37 345.20,452.00 C345.70,453.63 345.63,454.73 346.30,456.90 C346.97,459.07 347.95,462.50 349.20,465.00 C350.45,467.50 351.87,469.78 353.80,471.90 C355.73,474.02 358.30,475.97 360.80,477.70 C363.30,479.43 365.53,480.77 368.80,482.30 C372.07,483.83 376.55,485.55 380.40,486.90 C384.25,488.25 389.47,489.72 391.90,490.40 C394.33,491.08 389.48,490.13 395.00,491.00 C400.52,491.87 415.00,494.35 425.00,495.60 C435.00,496.85 445.83,497.80 455.00,498.50 C464.17,499.20 472.70,499.45 480.00,499.80 C487.30,500.15 493.38,500.40 498.80,500.60 C504.22,500.80 510.22,500.93 512.50,501.00" fill="none" stroke="#4a4a4a" stroke-width="1"/>
<circle cx="369.40" cy="477.50" r="2.50" fill="#000"/>
<circle cx="400.70" cy="484.70" r="2.50" fill="#000"/>
<circle cx="446.00" cy="490.50" r="2.50" fill="#000"/>
<circle cx="467.50" cy="492.50" r="2.50" fill="#000"/>
<circle cx="476.90" cy="492.80" r="2.50" fill="#000"/>
</g>
</svg></body></html>
